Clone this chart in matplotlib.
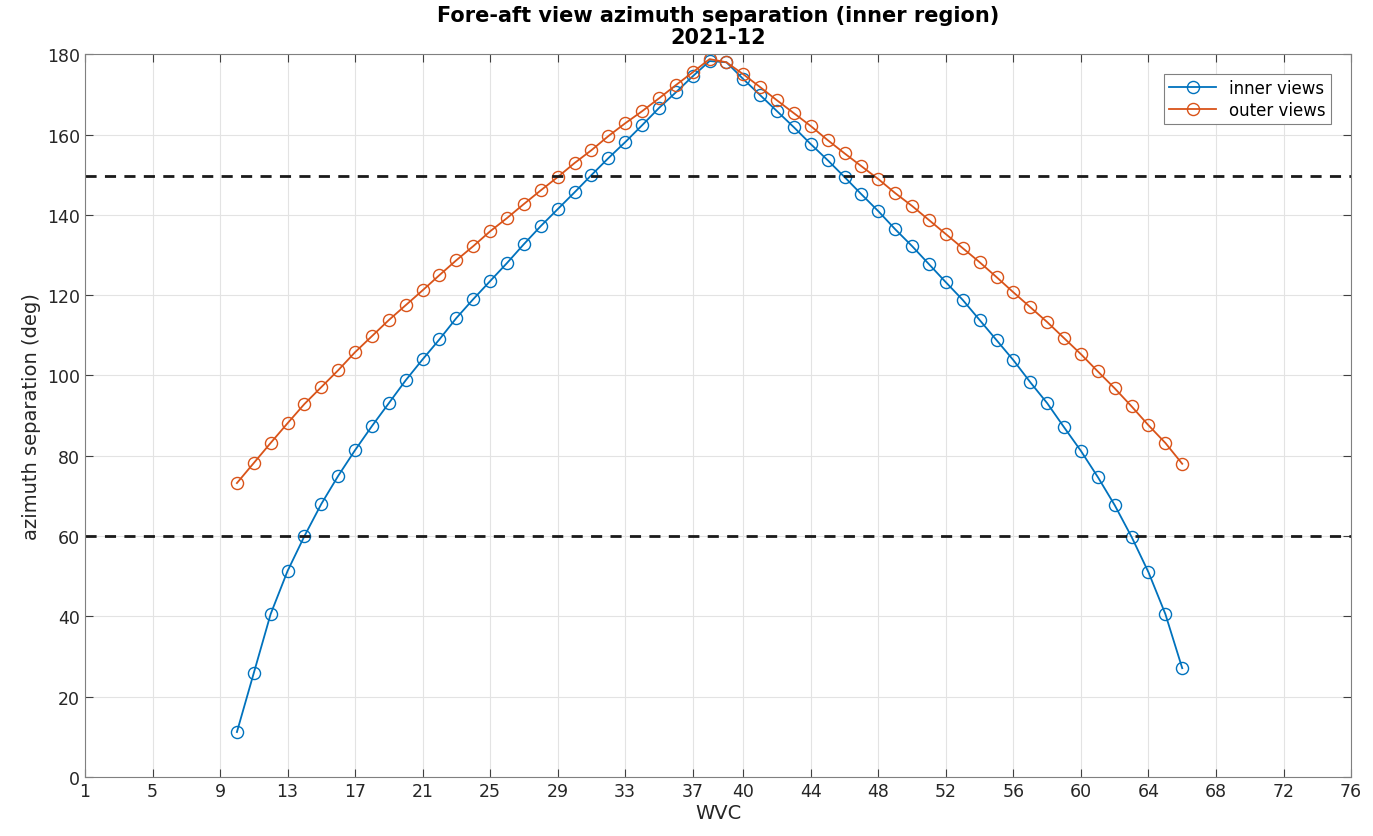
import numpy as np
import matplotlib.pyplot as plt

# WVC index and azimuth separation (deg)
wvc = list(range(10, 67))
inner = [11.2, 25.9, 40.6, 51.3, 60.0, 68.0, 75.0, 81.4, 87.4, 93.1,
         98.8, 104.0, 109.0, 114.3, 119.0, 123.5, 128.0, 132.7, 137.2, 141.4,
         145.6, 149.9, 154.1, 158.1, 162.3, 166.6, 170.5, 174.5, 178.3, 178.0,
         173.8, 169.8, 165.8, 161.8, 157.6, 153.6, 149.4, 145.1, 140.9, 136.4,
         132.2, 127.7, 123.2, 118.8, 113.8, 108.8, 103.8, 98.3, 93.1, 87.1,
         81.2, 74.7, 67.7, 59.8, 51.0, 40.6, 27.1]
outer = [73.2, 78.2, 83.2, 88.1, 92.9, 97.1, 101.3, 105.8, 109.8, 113.8,
         117.5, 121.2, 125.0, 128.7, 132.2, 135.9, 139.2, 142.7, 146.1, 149.4,
         152.9, 156.1, 159.6, 162.8, 165.8, 169.0, 172.3, 175.5, 178.8, 178.0,
         175.0, 171.8, 168.5, 165.3, 162.1, 158.6, 155.3, 152.1, 148.9, 145.4,
         142.2, 138.7, 135.2, 131.7, 128.2, 124.5, 120.7, 117.0, 113.3, 109.3,
         105.3, 101.0, 96.8, 92.3, 87.6, 83.2, 78.0]
thresholds = [149.6, 60.0]
xticks = [1, 5, 9, 13, 17, 21, 25, 29, 33, 37, 40, 44, 48, 52, 56, 60, 64, 68, 72, 76]

fig = plt.figure(figsize=(13.73, 8.37), dpi=100)
ax = fig.add_axes([0.0619, 0.0705, 0.9221, 0.8635])

ax.plot(wvc, inner, '-o', color='#0072BD', lw=1.3, ms=8.7, mfc='none', mew=1.0,
        label='inner views')
ax.plot(wvc, outer, '-o', color='#D95319', lw=1.3, ms=8.7, mfc='none', mew=1.0,
        label='outer views')
for t in thresholds:
    ax.axhline(t, color='#1a1a1a', ls=(0, (4, 3)), lw=2.0)

ax.set_xlim(1, 76)
ax.set_ylim(0, 180)
ax.set_xticks(xticks)
ax.set_yticks(range(0, 181, 20))
ax.grid(True, color='#e3e3e3', lw=0.8)
ax.set_axisbelow(True)
ax.tick_params(direction='in', top=True, right=True, labelsize=12.5,
               color='#404040', length=6, labelcolor='#262626')
for s in ax.spines.values():
    s.set_color('#808080')

ax.set_xlabel('WVC', fontsize=14, color='#262626', labelpad=2)
ax.set_ylabel('azimuth separation (deg)', fontsize=14, color='#262626')
ax.set_title('Fore-aft view azimuth separation (inner region)\n2021-12',
             fontsize=15, fontweight='bold', linespacing=1.15, pad=8)

leg = ax.legend(loc='upper right', fontsize=12, fancybox=False, framealpha=1,
                edgecolor='#808080', borderaxespad=1.2, handlelength=2.8,
                borderpad=0.3, labelspacing=0.2)
leg.get_frame().set_linewidth(0.8)

fig.savefig('out.png', dpi=100)
